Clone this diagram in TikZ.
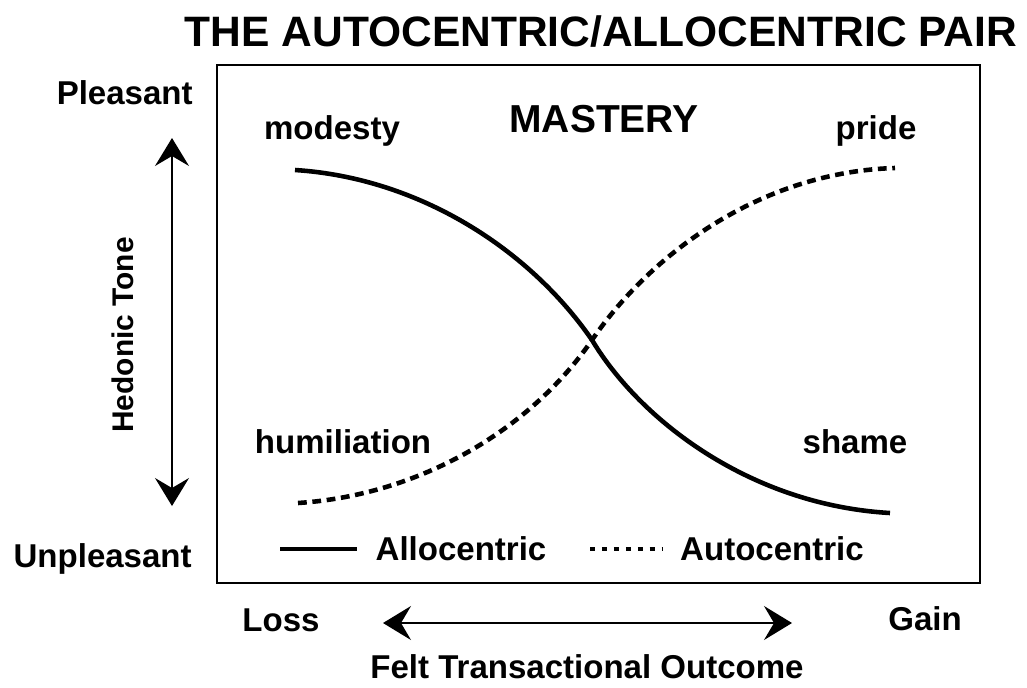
\documentclass[tikz,border=0pt]{standalone}
\usepackage{fontspec}
\setmainfont{Liberation Sans}
\usepackage{tikz}
\usetikzlibrary{positioning, arrows.meta}

\begin{document}
\begin{tikzpicture}[x=0.02cm, y=-0.02cm,
		lbl/.style={font=\bfseries\fontsize{18.8}{22}\selectfont, inner sep=0pt, anchor=base},
		bigarrow/.style={line width=0.85pt, {Stealth[length=0.56cm, width=0.68cm, inset=0.2cm]}-{Stealth[length=0.56cm, width=0.68cm, inset=0.2cm]}},
		allo/.style={line width=2.6pt},
		auto/.style={line width=2.6pt, dash pattern=on 5pt off 3.2pt}]
		\useasboundingbox (0,0) rectangle (1027,687);

		% Title and frame
		\node[lbl, font=\bfseries\fontsize{24.2}{28}\selectfont] (title) at (601,46) {THE AUTOCENTRIC/ALLOCENTRIC PAIR};
		\draw[line width=0.85pt] (217,65) rectangle (980,583);

		% Vertical axis
		\node[lbl, anchor=base east] (pleasant) at (193,104) {Pleasant};
		\node[lbl, anchor=base east] (unpleasant) at (192,567) {Unpleasant};
		\node[lbl, rotate=90, font=\bfseries\fontsize{17}{20}\selectfont] (hedonic) at (133,335) {Hedonic Tone};
		\coordinate (vtop) at (172,138);
		\coordinate (vbot) at (172,506);
		\draw[bigarrow] (vtop) -- (vbot);

		% Horizontal axis
		\node[lbl] (loss) at (281,631) {Loss};
		\node[lbl] (gain) at (925,630) {Gain};
		\node[lbl] (outcome) at (587,678) {Felt Transactional Outcome};
		\coordinate (hleft) at (383,623);
		\coordinate (hright) at (792,623);
		\draw[bigarrow] (hleft) -- (hright);

		% Labels in the box
		\node[lbl, font=\bfseries\fontsize{22.2}{26}\selectfont] (mastery) at (604,132) {MASTERY};
		\node[lbl] (modesty) at (332,139) {modesty};
		\node[lbl] (pride) at (876,139) {pride};
		\node[lbl] (humiliation) at (343,453) {humiliation};
		\node[lbl] (shame) at (855,453) {shame};

		% Curves
		\draw[allo] (295,170) .. controls (420,178) and (530,250) .. (592,340)
			.. controls (640,420) and (750,505) .. (890,513);
		\draw[auto] (298,503) .. controls (420,495) and (530,430) .. (592,340)
			.. controls (650,255) and (760,172) .. (895,168);

		% Legend
		\coordinate (l1a) at (280,549);
		\coordinate (l1b) at (357,549);
		\coordinate (l2a) at (590,549);
		\coordinate (l2b) at (662,549);
		\draw[allo] (l1a) -- (l1b);
		\node[lbl] (allolbl) at (461,560) {Allocentric};
		\draw[line width=1.8pt, dash pattern=on 3pt off 3.8pt] (l2a) -- (l2b);
		\node[lbl] (autolbl) at (772,560) {Autocentric};
	\end{tikzpicture}
\end{document}
